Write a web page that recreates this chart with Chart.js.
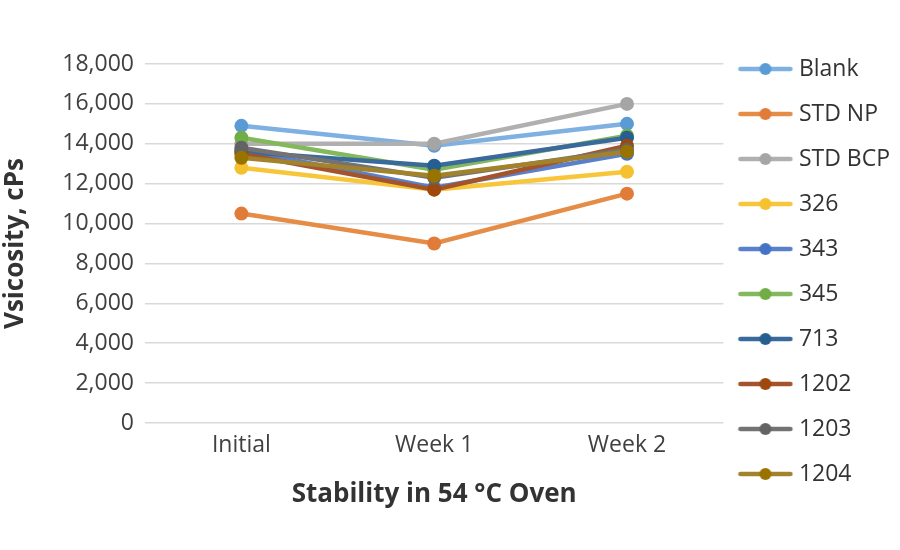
<!DOCTYPE html>
<html>
<head>
<meta charset="utf-8">
<script src="https://cdn.jsdelivr.net/npm/chart.js@4"></script>
<style>
  body { margin: 0; background: #fff; }
  #wrap { width: 900px; height: 550px; }
</style>
</head>
<body>
<div id="wrap"><canvas id="myChart"></canvas></div>
<script>
const categories = ["Initial", "Week 1", "Week 2"];
const seriesNames = ["Blank", "STD NP", "STD BCP", "326", "343", "345", "713", "1202", "1203", "1204"];

const blank = [14900, 13900, 15000];
const stdNp = [10500, 9000, 11500];
const stdBcp = [14000, 14000, 16000];
const s326 = [12800, 11700, 12600];
const s343 = [13700, 11800, 13500];
const s345 = [14300, 12700, 14400];
const s713 = [13600, 12900, 14300];
const s1202 = [13500, 11700, 13900];
const s1203 = [13800, 12300, 13700];
const s1204 = [13300, 12400, 13600];

const yTicks = [0, 2000, 4000, 6000, 8000, 10000, 12000, 14000, 16000, 18000];

const seriesValues = [blank, stdNp, stdBcp, s326, s343, s345, s713, s1202, s1203, s1204];

const markerColors = ["#5B9BD5", "#E07B39", "#A5A5A5", "#F5C12E", "#4472C4", "#70AD47", "#255E91", "#9E480E", "#636363", "#997300"];
const lineColors = ["#7EB0E2", "#E58C47", "#B0B0B0", "#F7C63A", "#5A80CC", "#84B85C", "#3A6A9C", "#A3542A", "#737373", "#A2832C"];

// legend sample: short line with a dot in the middle, like Excel
function legendIcon(lineColor, markColor) {
  const c = document.createElement("canvas");
  c.width = 58;
  c.height = 16;
  const g = c.getContext("2d");
  g.strokeStyle = lineColor;
  g.lineWidth = 4.5;
  g.lineCap = "round";
  g.beginPath();
  g.moveTo(3, 8);
  g.lineTo(53, 8);
  g.stroke();
  g.fillStyle = markColor;
  g.beginPath();
  g.arc(28, 8, 6, 0, Math.PI * 2);
  g.fill();
  return c;
}

const icons = seriesNames.map((n, i) => legendIcon(lineColors[i], markerColors[i]));

const ctx = document.getElementById("myChart");

new Chart(ctx, {
  type: "line",
  data: {
    labels: categories,
    datasets: seriesNames.map((name, i) => ({
      label: name,
      data: seriesValues[i],
      borderColor: lineColors[i],
      backgroundColor: markerColors[i],
      pointBackgroundColor: markerColors[i],
      pointBorderColor: markerColors[i],
      borderWidth: 4.5,
      pointRadius: 7,
      pointBorderWidth: 0,
      tension: 0,
      order: -i,
    })),
  },
  options: {
    responsive: true,
    maintainAspectRatio: false,
    animation: false,
    layout: {
      padding: { left: 0, top: 9, right: 0, bottom: 16 },
    },
    plugins: {
      tooltip: { enabled: false },
      // empty spacer above the plot only (legend keeps full height)
      title: {
        display: true,
        text: "",
        fullSize: false,
        font: { size: 10 },
        padding: { top: 0, bottom: 43 },
      },
      legend: {
        position: "right",
        labels: {
          usePointStyle: true,
          pointStyleWidth: 42,
          padding: 22,
          color: "#333333",
          font: { family: "Open Sans", size: 23 },
          generateLabels: function (chart) {
            return seriesNames.map((name, i) => ({
              text: name,
              pointStyle: icons[i],
              fillStyle: markerColors[i],
              strokeStyle: lineColors[i],
              lineWidth: 0,
              datasetIndex: i,
              fontColor: "#333333",
            }));
          },
        },
      },
    },
    scales: {
      x: {
        offset: true,
        grid: { display: false, drawTicks: false },
        border: { display: false },
        afterFit: function (scale) {
          scale.height = 111;
        },
        ticks: {
          color: "#404040",
          font: { family: "Open Sans", size: 23 },
          padding: 9,
        },
        title: {
          display: true,
          text: "Stability in 54 °C Oven",
          color: "#333333",
          font: { family: "Open Sans", size: 26, weight: "bold" },
          padding: { top: 19, bottom: 24 },
        },
      },
      y: {
        min: 0,
        max: 18000,
        afterBuildTicks: function (scale) {
          scale.ticks = yTicks.map((v) => ({ value: v }));
        },
        afterFit: function (scale) {
          scale.width = 145;
        },
        grid: { color: "#D9D9D9", lineWidth: 1.5, drawTicks: false },
        border: { display: false },
        ticks: {
          color: "#404040",
          font: { family: "Open Sans", size: 23 },
          padding: 11,
          callback: function (value) {
            return value.toLocaleString("en-US");
          },
        },
        title: {
          display: true,
          text: "Vsicosity, cPs",
          color: "#333333",
          font: { family: "Open Sans", size: 26, weight: "bold" },
          padding: { top: 0, bottom: 0 },
        },
      },
    },
  },
});
</script>
</body>
</html>
